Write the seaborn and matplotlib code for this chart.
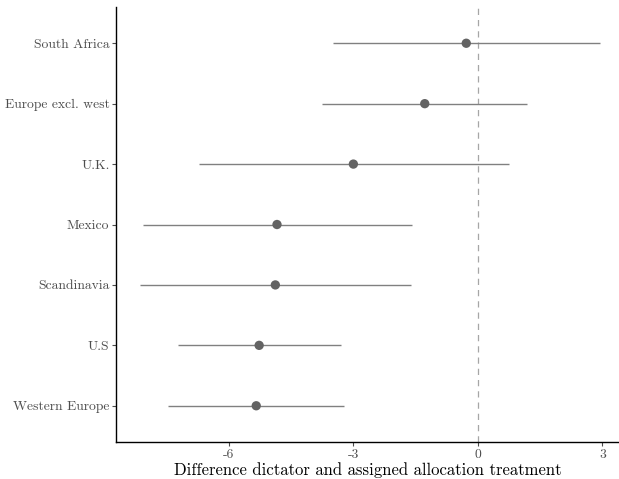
import matplotlib
matplotlib.use("Agg")
import matplotlib.pyplot as plt
import seaborn as sns
import pandas as pd

regions = ["Western Europe", "U.S", "Scandinavia", "Mexico", "U.K.",
           "Europe excl. west", "South Africa"]
estimate = [-5.34, -5.27, -4.88, -4.84, -3.00, -1.28, -0.28]
lower = [-7.46, -7.23, -8.14, -8.07, -6.72, -3.76, -3.49]
upper = [-3.22, -3.31, -1.61, -1.59, 0.75, 1.18, 2.94]
xticks = [-6, -3, 0, 3]
xticklabels = ["-6", "-3", "0", "3"]

df = pd.DataFrame({"region": regions, "est": estimate, "lo": lower, "hi": upper})

sns.set_theme(style="white")
plt.rcParams["font.family"] = ["cmr10", "DejaVu Serif"]
plt.rcParams["axes.unicode_minus"] = False

fig = plt.figure(figsize=(6.19, 4.79), dpi=100)
ax = fig.add_axes([0.188, 0.0772, 0.812, 0.9082])

ax.axvline(0, color="#a6a6a6", linestyle=(0, (5, 4)), linewidth=0.9, zorder=1)
ax.hlines(df["region"], df["lo"], df["hi"], color="#808080", linewidth=1.0, zorder=2)
sns.scatterplot(data=df, x="est", y="region", ax=ax, color="#636363", s=45,
                edgecolor="none", zorder=3, legend=False)

ax.set_xlim(-8.71, 3.40)
ax.set_ylim(-0.6, 6.6)
ax.set_xticks(xticks)
ax.set_xticklabels(xticklabels)
ax.set_xlabel("Difference dictator and assigned allocation treatment",
              fontsize=12, color="black", labelpad=1)
ax.set_ylabel("")

for side in ["top", "right"]:
    ax.spines[side].set_visible(False)
for side in ["left", "bottom"]:
    ax.spines[side].set_color("black")
    ax.spines[side].set_linewidth(1.0)

ax.tick_params(axis="both", which="both", length=3, width=0.8, color="#4d4d4d",
               labelcolor="#4d4d4d", labelsize=9.8, pad=2, left=True, bottom=True)
ax.grid(False)

fig.savefig("out.png", dpi=100)
